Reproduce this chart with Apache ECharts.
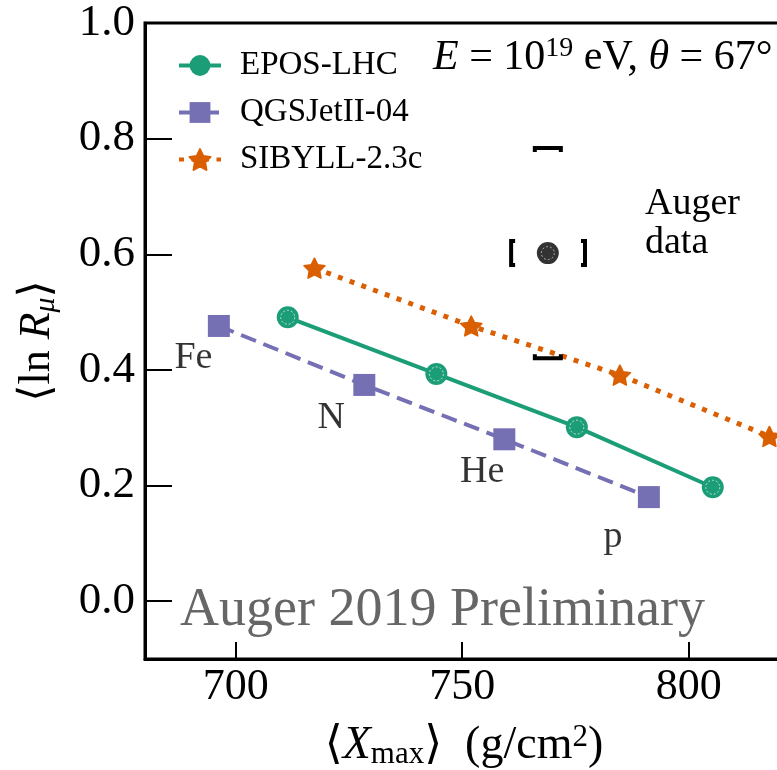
<!DOCTYPE html>
<html>
<head>
<meta charset="utf-8">
<script src="https://cdn.jsdelivr.net/npm/echarts@6/dist/echarts.min.js"></script>
<style>
  html, body { margin: 0; padding: 0; background: #fff; }
  #chart { width: 777px; height: 770px; }
</style>
</head>
<body>
<div id="chart"></div>
<script>
// model predictions, <Xmax> vs <ln R_mu>
const eposX = [711.5, 744.3, 775.3, 805.3];
const eposY = [0.491, 0.393, 0.301, 0.197];
const qgsX = [696.3, 728.4, 759.3, 791.2];
const qgsY = [0.476, 0.374, 0.280, 0.180];
const sibX = [717.4, 752.0, 784.8, 817.8];
const sibY = [0.576, 0.476, 0.391, 0.285];

// primaries labels (next to QGSJet points)
const primNames = ['Fe', 'N', 'He', 'p'];
const primX = [690.7, 721.1, 754.4, 783.3];
const primY = [0.420, 0.317, 0.223, 0.111];

// Auger measurement + systematic brackets
const augerPt = [768.9, 0.602];
const augerSysX = [760.8, 777.1];
const augerSysY = [0.420, 0.784];

const xTicks = [700, 750, 800];
const yTicks = [0.0, 0.2, 0.4, 0.6, 0.8, 1.0];

const FONT = '"Liberation Serif", "DejaVu Serif", serif';
const C_EPOS = '#1b9e77', C_QGS = '#7570b3', C_SIB = '#d95f02';

// fat five point star
const starPath = 'path://M50,0 L64.69,29.77 L97.55,34.55 L73.78,57.73 L79.39,90.45 L50,75 L20.61,90.45 L26.22,57.73 L2.45,34.55 L35.31,29.77 Z';

const zip = (a, b) => a.map((v, i) => [v, b[i]]);

const chart = echarts.init(document.getElementById('chart'));

const option = {
  animation: false,
  backgroundColor: '#fff',
  textStyle: { fontFamily: FONT },
  grid: {
    left: 145, top: 23, right: -6, bottom: 111,
    outerBoundsMode: 'none',
    show: true, borderColor: '#000', borderWidth: 3, backgroundColor: 'transparent'
  },
  legend: {
    left: 172, top: 44, orient: 'vertical',
    itemWidth: 42, itemHeight: 26, itemGap: 14,
    lineStyle: { width: 4 },
    textStyle: { fontFamily: FONT, fontSize: 33, color: '#000', padding: [0, 0, 0, 14] },
    data: ['EPOS-LHC', 'QGSJetII-04', 'SIBYLL-2.3c']
  },
  xAxis: {
    type: 'value', min: 680, max: 820.8,
    axisLine: { onZero: false, lineStyle: { color: '#000', width: 3 } },
    axisTick: { inside: true, length: 17, customValues: xTicks, lineStyle: { color: '#000', width: 2 } },
    axisLabel: {
      customValues: xTicks,
      fontFamily: FONT, fontSize: 44, color: '#000', margin: 6
    },
    splitLine: { show: false },
    name: '{a|⟨}{i|X}{s|max}{a|⟩  (g/cm}{sup|2}{a|)}',
    nameLocation: 'middle', nameGap: 62,
    nameTextStyle: {
      rich: {
        a: { fontFamily: FONT, fontSize: 46, color: '#000' },
        i: { fontFamily: FONT, fontSize: 46, fontStyle: 'italic', color: '#000' },
        s: { fontFamily: FONT, fontSize: 31, color: '#000', padding: [18, 0, 0, 0] },
        sup: { fontFamily: FONT, fontSize: 31, color: '#000', padding: [0, 0, 16, 0] }
      }
    }
  },
  yAxis: {
    type: 'value', min: -0.1, max: 1.0,
    axisLine: { onZero: false, lineStyle: { color: '#000', width: 3 } },
    axisTick: { inside: true, length: 27, customValues: yTicks, lineStyle: { color: '#000', width: 2 } },
    axisLabel: {
      customValues: yTicks,
      fontFamily: FONT, fontSize: 45, color: '#000', margin: 10,
      formatter: v => v.toFixed(1)
    },
    splitLine: { show: false },
    name: '{a|⟨ln }{i|R}{s|μ}{a|⟩}',
    nameLocation: 'middle', nameGap: 84, nameRotate: 90,
    nameTextStyle: {
      rich: {
        a: { fontFamily: FONT, fontSize: 44, color: '#000' },
        i: { fontFamily: FONT, fontSize: 44, fontStyle: 'italic', color: '#000' },
        s: { fontFamily: FONT, fontSize: 30, fontStyle: 'italic', color: '#000', padding: [18, 0, 0, 0] }
      }
    }
  },
  graphic: [
    {
      type: 'text', left: 433, top: 35, z: 10,
      style: {
        text: '{i|E} = 10{sup|19} eV, {i|θ} = 67°',
        rich: {
          i: { fontFamily: FONT, fontSize: 42, fontStyle: 'italic', fill: '#000' },
          sup: { fontFamily: FONT, fontSize: 28, fill: '#000', padding: [0, 0, 18, 0] }
        },
        fontFamily: FONT, fontSize: 42, fill: '#000'
      }
    },
    {
      type: 'text', left: 645, top: 185, z: 10,
      style: { text: 'Auger\ndata', fontFamily: FONT, fontSize: 38, lineHeight: 39, fill: '#000' }
    },
    {
      type: 'text', left: 180, top: 584, z: 10,
      style: { text: 'Auger 2019 Preliminary', fontFamily: FONT, fontSize: 54, fill: '#666' }
    }
  ],
  series: [
    {
      name: 'EPOS-LHC', type: 'line', data: zip(eposX, eposY),
      symbol: 'circle', symbolSize: 22, z: 3,
      lineStyle: { color: C_EPOS, width: 4 },
      itemStyle: { color: C_EPOS }
    },
    {
      name: 'QGSJetII-04', type: 'line', data: zip(qgsX, qgsY),
      symbol: 'rect', symbolSize: 22, z: 3,
      lineStyle: { color: C_QGS, width: 4, type: [16, 8] },
      itemStyle: { color: C_QGS }
    },
    {
      name: 'SIBYLL-2.3c', type: 'line', data: zip(sibX, sibY),
      symbol: starPath, symbolSize: 21, symbolKeepAspect: true, z: 3,
      lineStyle: { color: C_SIB, width: 5, type: [5, 7.5] },
      itemStyle: { color: C_SIB, borderColor: C_SIB, borderWidth: 1.5, borderJoin: 'round' }
    },
    {
      // thin dashed white ring inside the EPOS markers
      name: 'EPOS ring', type: 'scatter', data: zip(eposX, eposY),
      symbol: 'circle', symbolSize: 14, z: 5, silent: true,
      itemStyle: { color: 'transparent', borderColor: 'rgba(255,255,255,0.85)', borderWidth: 1, borderType: [2, 2] }
    },
    {
      name: 'primaries', type: 'scatter', data: zip(primX, primY),
      symbolSize: 0, silent: true,
      label: {
        show: true, position: 'inside',
        formatter: p => primNames[p.dataIndex],
        fontFamily: FONT, fontSize: 38, color: '#000'
      }
    },
    {
      name: 'Auger', type: 'scatter', data: [augerPt],
      symbol: 'circle', symbolSize: 22, z: 4,
      itemStyle: { color: '#000' }
    },
    {
      name: 'Auger ring', type: 'scatter', data: [augerPt],
      symbol: 'circle', symbolSize: 13, z: 5, silent: true,
      itemStyle: { color: 'transparent', borderColor: 'rgba(255,255,255,0.7)', borderWidth: 1, borderType: [2, 2] }
    },
    {
      name: 'Auger sys', type: 'custom', z: 4, silent: true,
      data: [[augerPt[0], augerPt[1], augerSysX[0], augerSysX[1], augerSysY[0], augerSysY[1]]],
      renderItem: (params, api) => {
        const c = api.coord([api.value(0), api.value(1)]);
        const xl = api.coord([api.value(2), api.value(1)])[0];
        const xr = api.coord([api.value(3), api.value(1)])[0];
        const yb = api.coord([api.value(0), api.value(4)])[1];
        const yt = api.coord([api.value(0), api.value(5)])[1];
        const h = 12, w = 13, s = 4;
        const st = { stroke: '#000', lineWidth: 4, fill: null, lineJoin: 'miter' };
        const pl = pts => ({ type: 'polyline', shape: { points: pts }, style: st });
        return {
          type: 'group',
          children: [
            pl([[xl + s, c[1] - h], [xl, c[1] - h], [xl, c[1] + h], [xl + s, c[1] + h]]),
            pl([[xr - s, c[1] - h], [xr, c[1] - h], [xr, c[1] + h], [xr - s, c[1] + h]]),
            pl([[c[0] - w, yt + s], [c[0] - w, yt], [c[0] + w, yt], [c[0] + w, yt + s]]),
            pl([[c[0] - w, yb - s], [c[0] - w, yb], [c[0] + w, yb], [c[0] + w, yb - s]])
          ]
        };
      }
    }
  ]
};

chart.setOption(option);
</script>
</body>
</html>
